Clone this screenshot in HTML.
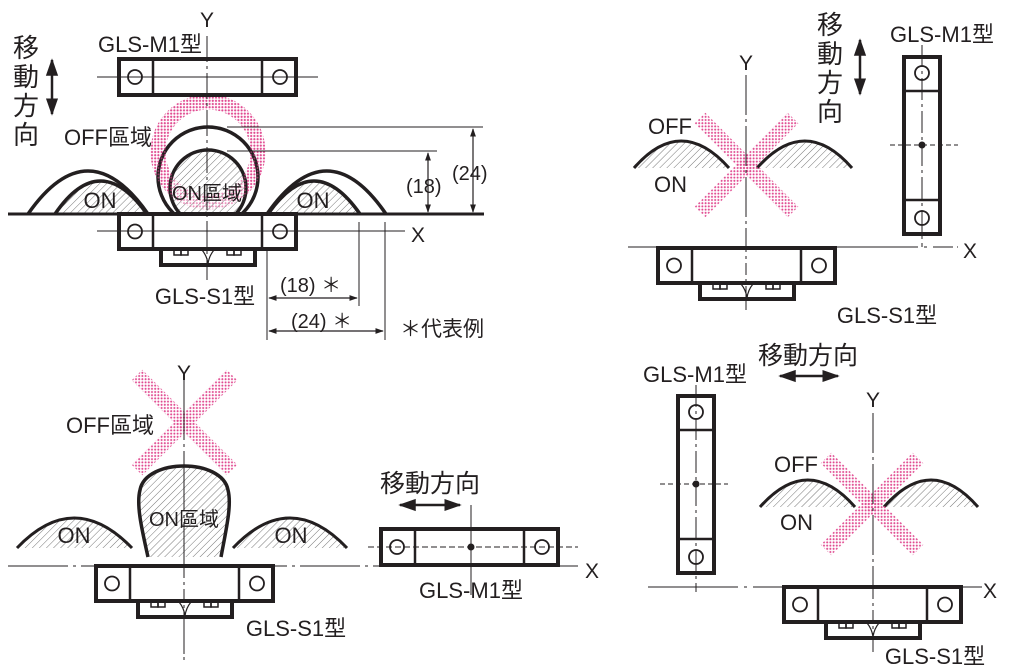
<!DOCTYPE html>
<html><head><meta charset="utf-8"><style>
html,body{margin:0;padding:0;background:#fff;}
svg{display:block;}
text{font-family:"Liberation Sans","Noto Sans CJK JP",sans-serif;fill:#231f20;}
</style></head><body>
<svg width="1024" height="671" viewBox="0 0 1024 671" xmlns="http://www.w3.org/2000/svg">
<defs>
<pattern id="hatch" width="5" height="5" patternUnits="userSpaceOnUse" patternTransform="rotate(45)">
<rect width="5" height="5" fill="#fff"/><line x1="0" y1="0" x2="0" y2="5" stroke="#777" stroke-width="1"/>
</pattern>
<pattern id="dots" width="3.2" height="3.2" patternUnits="userSpaceOnUse">
<circle cx="1.6" cy="1.6" r="1" fill="#e0488f"/>
</pattern>
<g id="s1">
<rect x="0" y="0" width="177" height="35" fill="#fff" stroke="#231f20" stroke-width="4"/>
<line x1="34" y1="0" x2="34" y2="35" stroke="#231f20" stroke-width="2.5"/>
<line x1="143" y1="0" x2="143" y2="35" stroke="#231f20" stroke-width="2.5"/>
<circle cx="16" cy="17.5" r="7" fill="none" stroke="#231f20" stroke-width="1.8"/>
<circle cx="161" cy="17.5" r="7" fill="none" stroke="#231f20" stroke-width="1.8"/>
<rect x="42" y="35" width="94" height="16" fill="#fff" stroke="#231f20" stroke-width="4"/>
<rect x="55" y="36" width="7" height="5" fill="none" stroke="#231f20" stroke-width="1.5"/>
<rect x="62" y="36" width="7" height="5" fill="none" stroke="#231f20" stroke-width="1.5"/>
<rect x="108" y="36" width="7" height="5" fill="none" stroke="#231f20" stroke-width="1.5"/>
<rect x="115" y="36" width="7" height="5" fill="none" stroke="#231f20" stroke-width="1.5"/>
<path d="M83,36 Q88,42 89,50 Q90,42 95,36" fill="none" stroke="#231f20" stroke-width="1.2"/>
</g>
<g id="m1">
<rect x="0" y="0" width="177" height="36" fill="#fff" stroke="#231f20" stroke-width="4"/>
<line x1="34" y1="0" x2="34" y2="36" stroke="#231f20" stroke-width="2.5"/>
<line x1="143" y1="0" x2="143" y2="36" stroke="#231f20" stroke-width="2.5"/>
<circle cx="16" cy="18" r="7" fill="none" stroke="#231f20" stroke-width="1.8"/>
<circle cx="161" cy="18" r="7" fill="none" stroke="#231f20" stroke-width="1.8"/>
</g>
<marker id="ar" viewBox="0 0 10 10" refX="9" refY="5" markerWidth="7" markerHeight="7" orient="auto-start-reverse"><path d="M0,1.5 L10,5 L0,8.5 z" fill="#231f20"/></marker>
<clipPath id="c1"><rect x="0" y="0" width="500" height="214"/></clipPath>
</defs>

<g stroke="#231f20" fill="none">
<!-- ===== Panel 1 ===== -->
<circle cx="208" cy="152" r="50" stroke="url(#dots)" stroke-width="15"/>
<g clip-path="url(#c1)">
<path d="M55,214 Q100,148 147,214 Z" fill="url(#hatch)" stroke="none"/>
<path d="M55,214 Q100,148 147,214" stroke-width="3.5"/>
<path d="M28,214 Q88,128 148,214" stroke-width="3.5"/>
<path d="M268,214 Q314,148 360,214 Z" fill="url(#hatch)" stroke="none"/>
<path d="M268,214 Q314,148 360,214" stroke-width="3.5"/>
<path d="M267,214 Q327,128 386,214" stroke-width="3.5"/>
<circle cx="208" cy="188" r="38" fill="url(#hatch)" stroke-width="3.5"/>
<circle cx="208" cy="177" r="50" stroke-width="3.5"/>
</g>
<circle cx="208" cy="152" r="50" stroke="url(#dots)" stroke-width="15" opacity="0.6"/>
<line x1="8" y1="214" x2="484" y2="214" stroke-width="3"/>
<line x1="207" y1="36" x2="207" y2="280" stroke-width="1" stroke-dasharray="26,4,3,4"/>
<line x1="227" y1="127" x2="483" y2="127" stroke-width="1"/>
<line x1="227" y1="151" x2="437" y2="151" stroke-width="1"/>
<line x1="428" y1="153" x2="428" y2="212" stroke-width="1.2" marker-start="url(#ar)" marker-end="url(#ar)"/>
<line x1="473" y1="129" x2="473" y2="212" stroke-width="1.2" marker-start="url(#ar)" marker-end="url(#ar)"/>
<line x1="267" y1="222" x2="267" y2="340" stroke-width="1"/>
<line x1="359" y1="222" x2="359" y2="306" stroke-width="1"/>
<line x1="385" y1="222" x2="385" y2="340" stroke-width="1"/>
<line x1="269" y1="298" x2="357" y2="298" stroke-width="1.2" marker-start="url(#ar)" marker-end="url(#ar)"/>
<line x1="269" y1="331" x2="383" y2="331" stroke-width="1.2" marker-start="url(#ar)" marker-end="url(#ar)"/>
<line x1="52" y1="60" x2="52" y2="114" stroke-width="2.5" marker-start="url(#ar)" marker-end="url(#ar)"/>
</g>
<use href="#m1" x="119" y="59"/>
<use href="#s1" x="119" y="214"/>
<line x1="97" y1="77" x2="318" y2="77" stroke="#231f20" stroke-width="1"/>
<line x1="97" y1="231" x2="405" y2="231" stroke="#231f20" stroke-width="1"/>
<line x1="207" y1="36" x2="207" y2="280" stroke="#231f20" stroke-width="1" stroke-dasharray="26,4,3,4"/>
<text x="207" y="27" font-size="21" text-anchor="middle">Y</text>
<text x="418" y="242" font-size="21" text-anchor="middle">X</text>
<text x="150" y="52" font-size="22" text-anchor="middle">GLS-M1型</text>
<text x="64" y="145" font-size="22">OFF區域</text>
<text x="207" y="200" font-size="20" text-anchor="middle">ON區域</text>
<text x="100" y="208" font-size="22" text-anchor="middle">ON</text>
<text x="313" y="208" font-size="22" text-anchor="middle">ON</text>
<text x="406" y="193" font-size="20">(18)</text>
<text x="452" y="180" font-size="20">(24)</text>
<text x="280" y="292" font-size="20">(18) ＊</text>
<text x="291" y="328" font-size="20">(24) ＊</text>
<text x="400" y="336" font-size="21">＊代表例</text>
<text x="205" y="304" font-size="22" text-anchor="middle">GLS-S1型</text>
<g font-size="26"><text x="13" y="57">移</text><text x="13" y="86">動</text><text x="13" y="115">方</text><text x="13" y="144">向</text></g>

<!-- ===== Panel 2 ===== -->
<g stroke="#231f20" fill="none">
<path d="M634,168 Q681,114 729,168 Z" fill="url(#hatch)" stroke="none"/>
<path d="M634,168 Q681,114 729,168" stroke-width="3"/>
<path d="M757,168 Q805,114 852,168 Z" fill="url(#hatch)" stroke="none"/>
<path d="M757,168 Q805,114 852,168" stroke-width="3"/>
<line x1="700" y1="118" x2="793" y2="212" stroke="url(#dots)" stroke-width="15"/>
<line x1="793" y1="118" x2="700" y2="212" stroke="url(#dots)" stroke-width="15"/>
<line x1="746" y1="75" x2="746" y2="310" stroke-width="1" stroke-dasharray="40,4,3,4"/>
<line x1="628" y1="247" x2="958" y2="247" stroke-width="1" stroke-dasharray="290,6,3,6,20,4"/>
<line x1="860" y1="40" x2="860" y2="94" stroke-width="2.5" marker-start="url(#ar)" marker-end="url(#ar)"/>
</g>
<use href="#s1" x="658" y="248"/>
<line x1="746" y1="240" x2="746" y2="310" stroke="#231f20" stroke-width="1" stroke-dasharray="12,4,3,4"/>
<use href="#m1" transform="translate(940,57) rotate(90)"/>
<line x1="922" y1="45" x2="922" y2="247" stroke="#231f20" stroke-width="1" stroke-dasharray="22,4,3,4"/>
<line x1="890" y1="145" x2="958" y2="145" stroke="#231f20" stroke-width="1" stroke-dasharray="5,3"/>
<circle cx="922" cy="145" r="3.5" fill="#231f20"/>
<text x="746" y="70" font-size="21" text-anchor="middle">Y</text>
<text x="970" y="258" font-size="21" text-anchor="middle">X</text>
<text x="942" y="42" font-size="22" text-anchor="middle">GLS-M1型</text>
<text x="648" y="134" font-size="22">OFF</text>
<text x="654" y="192" font-size="22">ON</text>
<text x="887" y="323" font-size="22" text-anchor="middle">GLS-S1型</text>
<g font-size="26"><text x="817" y="34">移</text><text x="817" y="63">動</text><text x="817" y="92">方</text><text x="817" y="121">向</text></g>

<!-- ===== Panel 3 ===== -->
<g stroke="#231f20" fill="none">
<line x1="137" y1="375" x2="232" y2="470" stroke="url(#dots)" stroke-width="15"/>
<line x1="232" y1="375" x2="137" y2="470" stroke="url(#dots)" stroke-width="15"/>
<path d="M17,548 Q74,488 132,548 Z" fill="url(#hatch)" stroke="none"/>
<path d="M17,548 Q74,488 132,548" stroke-width="3"/>
<path d="M233,548 Q290,488 347,548 Z" fill="url(#hatch)" stroke="none"/>
<path d="M233,548 Q290,488 347,548" stroke-width="3"/>
<path d="M148,557 C142,530 136,505 140,490 C146,458 222,458 228,490 C232,505 226,530 221,557" fill="url(#hatch)" stroke-width="3.5"/>
<line x1="184" y1="380" x2="184" y2="660" stroke-width="1" stroke-dasharray="60,4,3,4"/>
<line x1="8" y1="566" x2="578" y2="566" stroke-width="1" stroke-dasharray="60,5,3,5"/>
<line x1="400" y1="505" x2="460" y2="505" stroke-width="2.5" marker-start="url(#ar)" marker-end="url(#ar)"/>
</g>
<use href="#s1" x="96" y="566"/>
<line x1="184" y1="566" x2="184" y2="660" stroke="#231f20" stroke-width="1" stroke-dasharray="12,4,3,4"/>
<use href="#m1" x="381" y="529"/>
<line x1="368" y1="547" x2="578" y2="547" stroke="#231f20" stroke-width="1" stroke-dasharray="6,3"/>
<line x1="471" y1="505" x2="471" y2="595" stroke="#231f20" stroke-width="1"/>
<circle cx="471" cy="547" r="3.5" fill="#231f20"/>
<text x="184" y="380" font-size="21" text-anchor="middle">Y</text>
<text x="592" y="578" font-size="21" text-anchor="middle">X</text>
<text x="66" y="433" font-size="22">OFF區域</text>
<text x="184" y="526" font-size="20" text-anchor="middle">ON區域</text>
<text x="74" y="543" font-size="22" text-anchor="middle">ON</text>
<text x="291" y="543" font-size="22" text-anchor="middle">ON</text>
<text x="471" y="598" font-size="22" text-anchor="middle">GLS-M1型</text>
<text x="296" y="636" font-size="22" text-anchor="middle">GLS-S1型</text>
<text x="430" y="492" font-size="25" text-anchor="middle">移動方向</text>

<!-- ===== Panel 4 ===== -->
<g stroke="#231f20" fill="none">
<path d="M760,507 Q808,453 855,507 Z" fill="url(#hatch)" stroke="none"/>
<path d="M760,507 Q808,453 855,507" stroke-width="3"/>
<path d="M884,507 Q931,453 978,507 Z" fill="url(#hatch)" stroke="none"/>
<path d="M884,507 Q931,453 978,507" stroke-width="3"/>
<line x1="826" y1="458" x2="918" y2="550" stroke="url(#dots)" stroke-width="15"/>
<line x1="918" y1="458" x2="826" y2="550" stroke="url(#dots)" stroke-width="15"/>
<line x1="873" y1="413" x2="873" y2="652" stroke-width="1" stroke-dasharray="40,4,3,4"/>
<line x1="648" y1="587" x2="982" y2="587" stroke-width="1" stroke-dasharray="90,6,3,6"/>
<line x1="780" y1="376" x2="838" y2="376" stroke-width="2.5" marker-start="url(#ar)" marker-end="url(#ar)"/>
</g>
<use href="#s1" x="784" y="587"/>
<line x1="873" y1="587" x2="873" y2="652" stroke="#231f20" stroke-width="1" stroke-dasharray="12,4,3,4"/>
<use href="#m1" transform="translate(714,396) rotate(90)"/>
<line x1="696" y1="385" x2="696" y2="592" stroke="#231f20" stroke-width="1" stroke-dasharray="22,4,3,4"/>
<line x1="660" y1="484" x2="728" y2="484" stroke="#231f20" stroke-width="1" stroke-dasharray="5,3"/>
<circle cx="696" cy="484" r="3.5" fill="#231f20"/>
<text x="873" y="407" font-size="21" text-anchor="middle">Y</text>
<text x="990" y="598" font-size="21" text-anchor="middle">X</text>
<text x="695" y="382" font-size="22" text-anchor="middle">GLS-M1型</text>
<text x="808" y="364" font-size="25" text-anchor="middle">移動方向</text>
<text x="774" y="472" font-size="22">OFF</text>
<text x="780" y="530" font-size="22">ON</text>
<text x="935" y="664" font-size="22" text-anchor="middle">GLS-S1型</text>
</svg>
</body></html>
